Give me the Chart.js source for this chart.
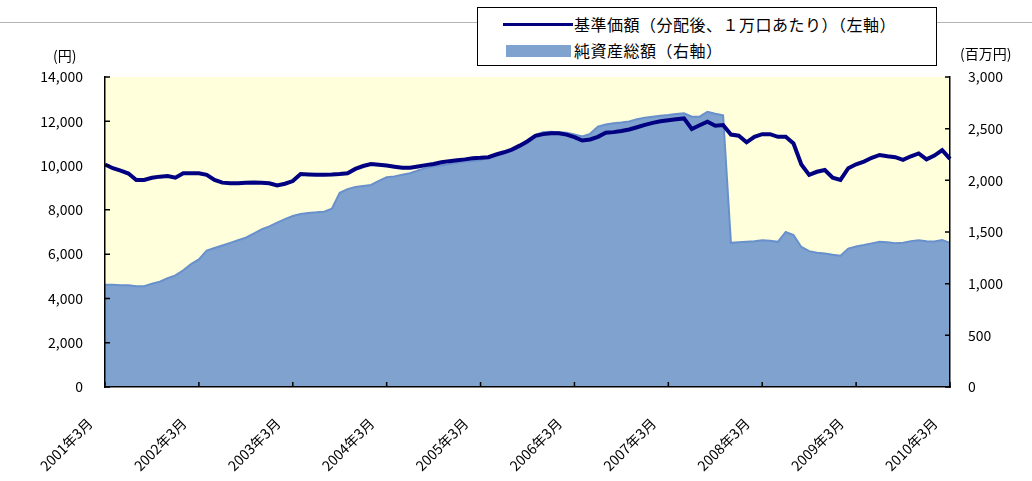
<!DOCTYPE html>
<html>
<head>
<meta charset="utf-8">
<script src="https://cdn.jsdelivr.net/npm/chart.js@4.4.1/dist/chart.umd.min.js"></script>
<style>
  body { margin: 0; background: #fff; font-family: "Noto Sans CJK JP", sans-serif; }
  #wrap { position: relative; width: 1032px; height: 481px; }
  #topline { position: absolute; left: 0; top: 22px; width: 1032px; height: 1px; background: #b4b4b4; }
  #legend { position: absolute; left: 477px; top: 7px; width: 460px; height: 59px; border: 1px solid #000; background: #fff; box-sizing: border-box; }
  .row { position: absolute; left: 96px; font-size: 16px; letter-spacing: 0.5px; line-height: 18px; color: #000; white-space: nowrap; }
  .unit { position: absolute; font-size: 14px; color: #000; }
</style>
</head>
<body>
<div id="wrap">
  <div id="topline"></div>
  <canvas id="myChart"></canvas>
  <div id="legend">
    <div style="position:absolute;left:25px;top:15px;width:70px;height:3px;background:#000080"></div>
    <div class="row" style="top:7px">基準価額（分配後、１万口あたり）（左軸）</div>
    <div style="position:absolute;left:28px;top:37px;width:65px;height:12px;background:#80a2cf"></div>
    <div class="row" style="top:33px">純資産総額（右軸）</div>
  </div>
  <div class="unit" style="left:53px;top:45px">(円)</div>
  <div class="unit" style="left:960px;top:43px">(百万円)</div>
</div>
<script>
// month categories, Mar 2001 .. Mar 2010
const months = []
for (let i = 0; i <= 108; i++) {
  months.push((2001 + Math.floor((i + 2) / 12)) + '年' + ((i + 2) % 12 + 1) + '月')
}
const yearLabels = ['2001年3月', '2002年3月', '2003年3月', '2004年3月', '2005年3月',
  '2006年3月', '2007年3月', '2008年3月', '2009年3月', '2010年3月']

// 基準価額 (yen, left axis)
const navValues = [
  10050, 9880, 9770, 9640, 9350, 9350, 9450, 9500, 9530, 9450, 9650, 9650,
  9650, 9580, 9350, 9230, 9200, 9200, 9220, 9240, 9220, 9200, 9100, 9180,
  9300, 9620, 9600, 9580, 9590, 9600, 9620, 9650, 9850, 9980, 10070, 10040,
  10000, 9950, 9900, 9900, 9960, 10020, 10070, 10150, 10200, 10240, 10280, 10330,
  10350, 10380, 10500, 10600, 10720, 10900, 11100, 11340, 11420, 11460, 11460, 11400,
  11280, 11130, 11180, 11300, 11480, 11510, 11560, 11630, 11730, 11840, 11930, 12000,
  12050, 12090, 12130, 11650, 11820, 11980, 11800, 11830, 11400, 11350, 11050, 11300,
  11420, 11420, 11300, 11300, 11000, 10050, 9580, 9720, 9800, 9450, 9350, 9880,
  10060, 10180, 10350, 10480, 10420, 10380, 10260, 10420, 10550, 10280, 10450, 10700,
  10300
]

// 純資産総額 (million yen, right axis)
const assetValues = [
  990, 990, 985, 985, 975, 975, 1000, 1020, 1052, 1080, 1130, 1190,
  1235, 1320, 1345, 1370, 1395, 1420, 1445, 1485, 1525, 1555, 1590, 1625,
  1655, 1675, 1685, 1690, 1697, 1725, 1880, 1915, 1935, 1945, 1955, 1995,
  2030, 2037, 2055, 2068, 2095, 2120, 2135, 2145, 2157, 2170, 2182, 2187,
  2195, 2225, 2245, 2262, 2290, 2320, 2360, 2440, 2465, 2470, 2465, 2460,
  2445, 2425, 2450, 2520, 2540, 2552, 2560, 2570, 2592, 2605, 2615, 2625,
  2632, 2642, 2648, 2616, 2616, 2664, 2645, 2630, 1395, 1400, 1405, 1410,
  1420, 1415, 1405, 1500, 1470, 1355, 1315, 1300, 1293, 1280, 1271, 1340,
  1360, 1374, 1390, 1405, 1400, 1392, 1395, 1410, 1420, 1410, 1408, 1422,
  1395
]

const font = { family: '"Noto Sans CJK JP", sans-serif', size: 14 }

// yellow plot background
const plotBg = {
  id: 'plotBg',
  beforeDraw (chart) {
    const { ctx, chartArea: a } = chart
    ctx.save()
    ctx.fillStyle = '#ffffdc'
    ctx.fillRect(a.left, a.top, a.right - a.left, a.bottom - a.top)
    ctx.restore()
  }
}

// tick marks pointing into the plot
const innerTicks = {
  id: 'innerTicks',
  afterDraw (chart) {
    const { ctx, chartArea: a, scales } = chart
    ctx.save()
    ctx.strokeStyle = '#000'
    ctx.lineWidth = 1.5
    ctx.beginPath()
    scales.y.ticks.forEach((t, i) => {
      const p = scales.y.getPixelForTick(i)
      ctx.moveTo(a.left, p); ctx.lineTo(a.left + 5, p)
    })
    scales.y2.ticks.forEach((t, i) => {
      const p = scales.y2.getPixelForTick(i)
      ctx.moveTo(a.right, p); ctx.lineTo(a.right - 5, p)
    })
    scales.x.ticks.forEach((t, i) => {
      const p = scales.x.getPixelForTick(i)
      ctx.moveTo(p, a.bottom); ctx.lineTo(p, a.bottom - 5)
    })
    ctx.stroke()
    ctx.restore()
  }
}

window.onload = function () {
  const ctx = document.getElementById('myChart').getContext('2d')
  new Chart(ctx, {
    type: 'line',
    data: {
      labels: months,
      datasets: [{
        label: '基準価額（分配後、１万口あたり）（左軸）',
        data: navValues,
        yAxisID: 'y',
        borderColor: '#000080',
        borderWidth: 4,
        pointRadius: 0,
        fill: false,
        order: 0
      }, {
        label: '純資産総額（右軸）',
        data: assetValues,
        yAxisID: 'y2',
        borderColor: '#6890cc',
        borderWidth: 2,
        backgroundColor: '#80a2cf',
        pointRadius: 0,
        fill: 'origin',
        order: 1
      }]
    },
    options: {
      responsive: true,
      maintainAspectRatio: false,
      animation: false,
      layout: { padding: { top: 77, left: 0, right: 0, bottom: 0 } },
      plugins: { legend: { display: false }, tooltip: { enabled: false } },
      scales: {
        x: {
          afterBuildTicks: s => { s.ticks = s.ticks.filter(t => yearLabels.includes(months[t.value])) },
          afterFit: s => { s.height = 94 },
          grid: { drawOnChartArea: false, drawTicks: false },
          border: { color: '#000', width: 1.5, z: 1 },
          ticks: {
            autoSkip: false,
            minRotation: 45,
            maxRotation: 45,
            padding: 28,
            labelOffset: -15,
            color: '#000',
            font: font,
            callback: v => months[v]
          }
        },
        y: {
          position: 'left',
          min: 0,
          max: 14000,
          afterFit: s => { s.width = 105 },
          grid: { drawOnChartArea: false, drawTicks: false },
          border: { color: '#000', width: 1.5, z: 1 },
          ticks: { stepSize: 2000, padding: 22, color: '#000', font: font, callback: v => v.toLocaleString('en-US') }
        },
        y2: {
          position: 'right',
          min: 0,
          max: 3000,
          afterFit: s => { s.width = 82 },
          grid: { drawOnChartArea: false, drawTicks: false },
          border: { color: '#000', width: 1.5, z: 1 },
          ticks: { stepSize: 500, padding: 18, color: '#000', font: font, callback: v => v.toLocaleString('en-US') }
        }
      }
    },
    plugins: [plotBg, innerTicks]
  })
}
</script>
</body>
</html>
